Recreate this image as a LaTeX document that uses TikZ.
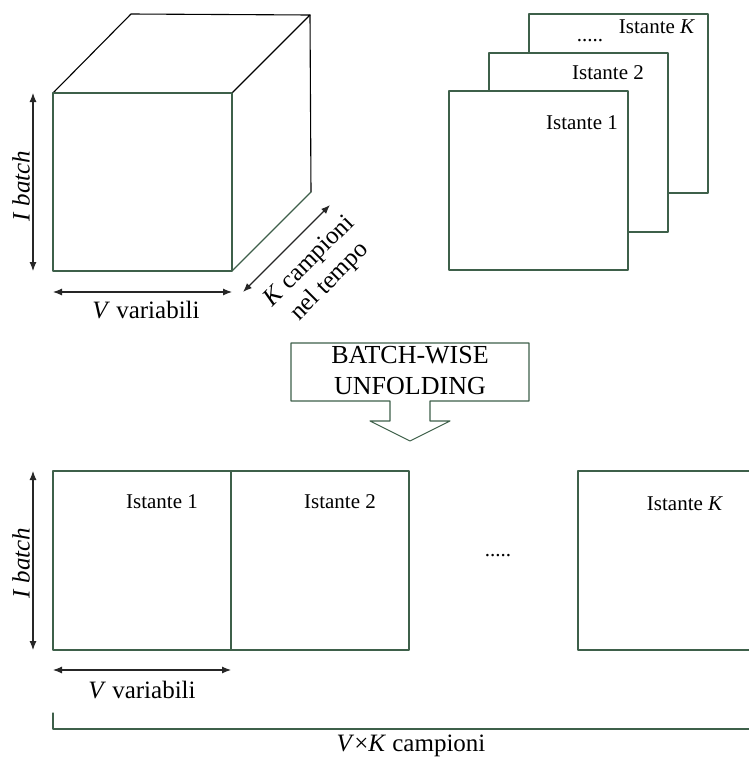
\documentclass[tikz,border=0pt]{standalone}
\usepackage{fontspec}
\setmainfont{Liberation Serif}
\usetikzlibrary{arrows.meta}

\definecolor{framegreen}{RGB}{62,96,74}

\tikzset{
  frame/.style = {draw = framegreen, line width = 1.1pt},
  edge/.style = {draw = black, line width = 1.1pt},
  dimarrow/.style = {{Latex[length = 9pt, width = 7pt]}-{Latex[length = 9pt, width = 7pt]},
    line width = 1.1pt, draw = black!85},
  lbl/.style = {font = \fontsize{21}{25}\selectfont, inner sep = 0pt},
  axlbl/.style = {font = \fontsize{25}{29}\selectfont, inner sep = 0pt}
}

\begin{document}
\begin{tikzpicture}[x = 1pt, y = -1pt, line join = round, line cap = round]
  \useasboundingbox (0, 0) rectangle (749, 758);

  % cube
  \coordinate (FTL) at (53, 93);
  \coordinate (FTR) at (232, 93);
  \coordinate (FBR) at (232, 271);
  \coordinate (FBL) at (53, 271);
  \coordinate (BTL) at (131, 14);
  \coordinate (BTR) at (310, 15);
  \coordinate (BBR) at (311, 192);

  \draw[edge] (FTL) -- (BTL) -- (BTR) -- (FTR);
  \draw[edge] (BTR) -- (BBR);
  \draw[frame] (BBR) -- (FBR);
  \draw[frame] (FTL) rectangle (FBR);

  \coordinate (IA1) at (33, 93);
  \coordinate (IA2) at (33, 271);
  \draw[dimarrow] (IA1) -- (IA2);
  \node[axlbl, rotate = 90] (ibatch) at (21, 186) {\textit{I batch}};

  \coordinate (VA1) at (53, 292);
  \coordinate (VA2) at (232, 292);
  \draw[dimarrow] (VA1) -- (VA2);
  \node[axlbl] (vvar) at (146, 310) {\textit{V} variabili};

  \coordinate (KA1) at (243, 292);
  \coordinate (KA2) at (330, 205);
  \draw[dimarrow] (KA1) -- (KA2);
  \node[axlbl, rotate = 45, align = center] (kcamp) at (320, 272)
    {\textit{K} campioni\\nel tempo};

  % stack of time slices
  \foreach \dx/\dy/\name in {80/-77/planeK, 40/-38/plane2, 0/0/plane1}
    \filldraw[frame, fill = white] (449 + \dx, 91 + \dy) rectangle
      (628 + \dx, 270 + \dy) coordinate (\name);

  \node[lbl] (ist1) at (582, 123) {Istante 1};
  \node[lbl] (ist2) at (608, 73) {Istante 2};
  \node[lbl] (istK) at (657, 27) {Istante \textit{K}};
  \node[lbl] (dotsT) at (590, 41) {.....};

  % unfolding arrow
  \draw[frame] (291, 343) -- (529, 343) -- (529, 401) -- (430, 401)
    -- (430, 421) -- (450, 421) -- (410, 441) -- (370, 421) -- (390, 421)
    -- (390, 401) -- (291, 401) -- cycle;
  \node[align = center, inner sep = 0pt, font = \fontsize{26}{31}\selectfont]
    (unfold) at (410, 371) {BATCH-WISE\\UNFOLDING};

  % unfolded matrix
  \draw[frame] (53, 471) rectangle (231, 650);
  \draw[frame] (231, 471) rectangle (409, 650);
  \draw[frame] (749, 471) -- (578, 471) -- (578, 650) -- (749, 650);

  \node[lbl] (ubl1) at (162, 502) {Istante 1};
  \node[lbl] (ubl2) at (340, 502) {Istante 2};
  \node[lbl] (ublK) at (685, 504) {Istante \textit{K}};
  \node[lbl] (dotsB) at (498, 556) {.....};

  \coordinate (IB1) at (33, 471);
  \coordinate (IB2) at (33, 650);
  \draw[dimarrow] (IB1) -- (IB2);
  \node[axlbl, rotate = 90] (ibatchB) at (21, 563) {\textit{I batch}};

  \coordinate (VB1) at (53, 670);
  \coordinate (VB2) at (231, 670);
  \draw[dimarrow] (VB1) -- (VB2);
  \node[axlbl] (vvarB) at (142, 690) {\textit{V} variabili};

  \coordinate (BR1) at (53, 713);
  \coordinate (BR2) at (53, 729);
  \coordinate (BR3) at (749, 729);
  \draw[frame] (BR1) -- (BR2) -- (BR3);
  \node[axlbl] (vk) at (411, 746) {\textit{V}×\textit{K} campioni};
\end{tikzpicture}
\end{document}
